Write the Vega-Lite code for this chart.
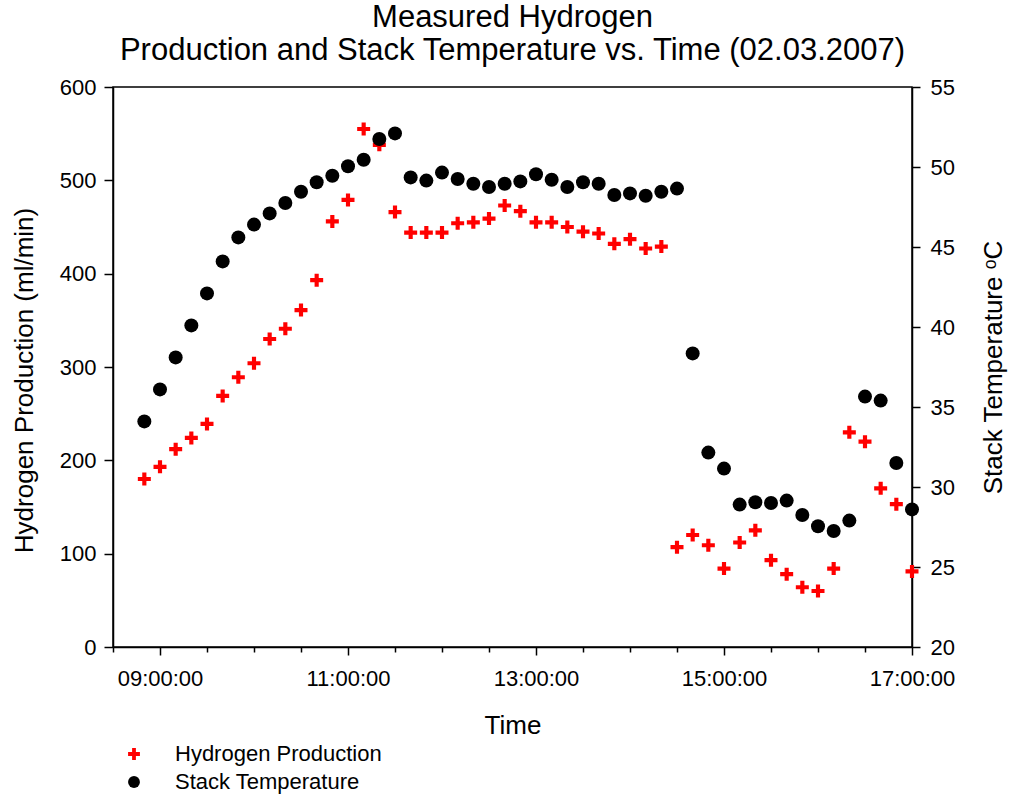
{
  "$schema": "https://vega.github.io/schema/vega-lite/v6.json",
  "width": 799,
  "height": 560,
  "autosize": {"type": "none"},
  "padding": {"left": 113, "top": 87, "right": 102, "bottom": 152},
  "background": "white",
  "title": {
    "text": ["Measured Hydrogen", "Production and Stack Temperature vs. Time (02.03.2007)"],
    "fontSize": 31,
    "fontWeight": "normal",
    "font": "Liberation Sans",
    "color": "black",
    "anchor": "middle",
    "lineHeight": 33,
    "offset": 9
  },
  "data": {
    "values": [
      {"time": "2007-03-02T08:50:00", "series": "Hydrogen Production", "value": 180},
      {"time": "2007-03-02T09:00:00", "series": "Hydrogen Production", "value": 193},
      {"time": "2007-03-02T09:10:00", "series": "Hydrogen Production", "value": 212},
      {"time": "2007-03-02T09:20:00", "series": "Hydrogen Production", "value": 224},
      {"time": "2007-03-02T09:30:00", "series": "Hydrogen Production", "value": 239},
      {"time": "2007-03-02T09:40:00", "series": "Hydrogen Production", "value": 269},
      {"time": "2007-03-02T09:50:00", "series": "Hydrogen Production", "value": 289},
      {"time": "2007-03-02T10:00:00", "series": "Hydrogen Production", "value": 304},
      {"time": "2007-03-02T10:10:00", "series": "Hydrogen Production", "value": 330},
      {"time": "2007-03-02T10:20:00", "series": "Hydrogen Production", "value": 341},
      {"time": "2007-03-02T10:30:00", "series": "Hydrogen Production", "value": 361},
      {"time": "2007-03-02T10:40:00", "series": "Hydrogen Production", "value": 393},
      {"time": "2007-03-02T10:50:00", "series": "Hydrogen Production", "value": 456},
      {"time": "2007-03-02T11:00:00", "series": "Hydrogen Production", "value": 479},
      {"time": "2007-03-02T11:10:00", "series": "Hydrogen Production", "value": 555},
      {"time": "2007-03-02T11:20:00", "series": "Hydrogen Production", "value": 538},
      {"time": "2007-03-02T11:30:00", "series": "Hydrogen Production", "value": 466},
      {"time": "2007-03-02T11:40:00", "series": "Hydrogen Production", "value": 444},
      {"time": "2007-03-02T11:50:00", "series": "Hydrogen Production", "value": 444},
      {"time": "2007-03-02T12:00:00", "series": "Hydrogen Production", "value": 444},
      {"time": "2007-03-02T12:10:00", "series": "Hydrogen Production", "value": 454},
      {"time": "2007-03-02T12:20:00", "series": "Hydrogen Production", "value": 455},
      {"time": "2007-03-02T12:30:00", "series": "Hydrogen Production", "value": 459},
      {"time": "2007-03-02T12:40:00", "series": "Hydrogen Production", "value": 473},
      {"time": "2007-03-02T12:50:00", "series": "Hydrogen Production", "value": 467},
      {"time": "2007-03-02T13:00:00", "series": "Hydrogen Production", "value": 455},
      {"time": "2007-03-02T13:10:00", "series": "Hydrogen Production", "value": 455},
      {"time": "2007-03-02T13:20:00", "series": "Hydrogen Production", "value": 450},
      {"time": "2007-03-02T13:30:00", "series": "Hydrogen Production", "value": 445},
      {"time": "2007-03-02T13:40:00", "series": "Hydrogen Production", "value": 443},
      {"time": "2007-03-02T13:50:00", "series": "Hydrogen Production", "value": 432},
      {"time": "2007-03-02T14:00:00", "series": "Hydrogen Production", "value": 437},
      {"time": "2007-03-02T14:10:00", "series": "Hydrogen Production", "value": 427},
      {"time": "2007-03-02T14:20:00", "series": "Hydrogen Production", "value": 429},
      {"time": "2007-03-02T14:30:00", "series": "Hydrogen Production", "value": 107},
      {"time": "2007-03-02T14:40:00", "series": "Hydrogen Production", "value": 120},
      {"time": "2007-03-02T14:50:00", "series": "Hydrogen Production", "value": 109},
      {"time": "2007-03-02T15:00:00", "series": "Hydrogen Production", "value": 84},
      {"time": "2007-03-02T15:10:00", "series": "Hydrogen Production", "value": 112},
      {"time": "2007-03-02T15:20:00", "series": "Hydrogen Production", "value": 125},
      {"time": "2007-03-02T15:30:00", "series": "Hydrogen Production", "value": 93},
      {"time": "2007-03-02T15:40:00", "series": "Hydrogen Production", "value": 78},
      {"time": "2007-03-02T15:50:00", "series": "Hydrogen Production", "value": 64},
      {"time": "2007-03-02T16:00:00", "series": "Hydrogen Production", "value": 60},
      {"time": "2007-03-02T16:10:00", "series": "Hydrogen Production", "value": 84},
      {"time": "2007-03-02T16:20:00", "series": "Hydrogen Production", "value": 230},
      {"time": "2007-03-02T16:30:00", "series": "Hydrogen Production", "value": 220},
      {"time": "2007-03-02T16:40:00", "series": "Hydrogen Production", "value": 170},
      {"time": "2007-03-02T16:50:00", "series": "Hydrogen Production", "value": 153},
      {"time": "2007-03-02T17:00:00", "series": "Hydrogen Production", "value": 81},
      {"time": "2007-03-02T08:50:00", "series": "Stack Temperature", "value": 34.1},
      {"time": "2007-03-02T09:00:00", "series": "Stack Temperature", "value": 36.1},
      {"time": "2007-03-02T09:10:00", "series": "Stack Temperature", "value": 38.1},
      {"time": "2007-03-02T09:20:00", "series": "Stack Temperature", "value": 40.1},
      {"time": "2007-03-02T09:30:00", "series": "Stack Temperature", "value": 42.1},
      {"time": "2007-03-02T09:40:00", "series": "Stack Temperature", "value": 44.1},
      {"time": "2007-03-02T09:50:00", "series": "Stack Temperature", "value": 45.6},
      {"time": "2007-03-02T10:00:00", "series": "Stack Temperature", "value": 46.4},
      {"time": "2007-03-02T10:10:00", "series": "Stack Temperature", "value": 47.1},
      {"time": "2007-03-02T10:20:00", "series": "Stack Temperature", "value": 47.75},
      {"time": "2007-03-02T10:30:00", "series": "Stack Temperature", "value": 48.45},
      {"time": "2007-03-02T10:40:00", "series": "Stack Temperature", "value": 49.05},
      {"time": "2007-03-02T10:50:00", "series": "Stack Temperature", "value": 49.45},
      {"time": "2007-03-02T11:00:00", "series": "Stack Temperature", "value": 50.05},
      {"time": "2007-03-02T11:10:00", "series": "Stack Temperature", "value": 50.45},
      {"time": "2007-03-02T11:20:00", "series": "Stack Temperature", "value": 51.75},
      {"time": "2007-03-02T11:30:00", "series": "Stack Temperature", "value": 52.1},
      {"time": "2007-03-02T11:40:00", "series": "Stack Temperature", "value": 49.35},
      {"time": "2007-03-02T11:50:00", "series": "Stack Temperature", "value": 49.15},
      {"time": "2007-03-02T12:00:00", "series": "Stack Temperature", "value": 49.65},
      {"time": "2007-03-02T12:10:00", "series": "Stack Temperature", "value": 49.25},
      {"time": "2007-03-02T12:20:00", "series": "Stack Temperature", "value": 48.95},
      {"time": "2007-03-02T12:30:00", "series": "Stack Temperature", "value": 48.75},
      {"time": "2007-03-02T12:40:00", "series": "Stack Temperature", "value": 48.95},
      {"time": "2007-03-02T12:50:00", "series": "Stack Temperature", "value": 49.1},
      {"time": "2007-03-02T13:00:00", "series": "Stack Temperature", "value": 49.55},
      {"time": "2007-03-02T13:10:00", "series": "Stack Temperature", "value": 49.2},
      {"time": "2007-03-02T13:20:00", "series": "Stack Temperature", "value": 48.75},
      {"time": "2007-03-02T13:30:00", "series": "Stack Temperature", "value": 49.05},
      {"time": "2007-03-02T13:40:00", "series": "Stack Temperature", "value": 48.95},
      {"time": "2007-03-02T13:50:00", "series": "Stack Temperature", "value": 48.25},
      {"time": "2007-03-02T14:00:00", "series": "Stack Temperature", "value": 48.35},
      {"time": "2007-03-02T14:10:00", "series": "Stack Temperature", "value": 48.2},
      {"time": "2007-03-02T14:20:00", "series": "Stack Temperature", "value": 48.45},
      {"time": "2007-03-02T14:30:00", "series": "Stack Temperature", "value": 48.65},
      {"time": "2007-03-02T14:40:00", "series": "Stack Temperature", "value": 38.35},
      {"time": "2007-03-02T14:50:00", "series": "Stack Temperature", "value": 32.15},
      {"time": "2007-03-02T15:00:00", "series": "Stack Temperature", "value": 31.15},
      {"time": "2007-03-02T15:10:00", "series": "Stack Temperature", "value": 28.9},
      {"time": "2007-03-02T15:20:00", "series": "Stack Temperature", "value": 29.05},
      {"time": "2007-03-02T15:30:00", "series": "Stack Temperature", "value": 29.0},
      {"time": "2007-03-02T15:40:00", "series": "Stack Temperature", "value": 29.15},
      {"time": "2007-03-02T15:50:00", "series": "Stack Temperature", "value": 28.25},
      {"time": "2007-03-02T16:00:00", "series": "Stack Temperature", "value": 27.55},
      {"time": "2007-03-02T16:10:00", "series": "Stack Temperature", "value": 27.25},
      {"time": "2007-03-02T16:20:00", "series": "Stack Temperature", "value": 27.9},
      {"time": "2007-03-02T16:30:00", "series": "Stack Temperature", "value": 35.65},
      {"time": "2007-03-02T16:40:00", "series": "Stack Temperature", "value": 35.4},
      {"time": "2007-03-02T16:50:00", "series": "Stack Temperature", "value": 31.5},
      {"time": "2007-03-02T17:00:00", "series": "Stack Temperature", "value": 28.6}
    ]
  },
  "encoding": {
    "x": {
      "field": "time",
      "type": "temporal",
      "scale": {
        "domain": [
          {"year": 2007, "month": 3, "date": 2, "hours": 8, "minutes": 30},
          {"year": 2007, "month": 3, "date": 2, "hours": 17, "minutes": 0}
        ]
      },
      "axis": {
        "title": "Time",
        "values": [
          {"year": 2007, "month": 3, "date": 2, "hours": 8, "minutes": 30},
          {"year": 2007, "month": 3, "date": 2, "hours": 9, "minutes": 0},
          {"year": 2007, "month": 3, "date": 2, "hours": 9, "minutes": 30},
          {"year": 2007, "month": 3, "date": 2, "hours": 10, "minutes": 0},
          {"year": 2007, "month": 3, "date": 2, "hours": 10, "minutes": 30},
          {"year": 2007, "month": 3, "date": 2, "hours": 11, "minutes": 0},
          {"year": 2007, "month": 3, "date": 2, "hours": 11, "minutes": 30},
          {"year": 2007, "month": 3, "date": 2, "hours": 12, "minutes": 0},
          {"year": 2007, "month": 3, "date": 2, "hours": 12, "minutes": 30},
          {"year": 2007, "month": 3, "date": 2, "hours": 13, "minutes": 0},
          {"year": 2007, "month": 3, "date": 2, "hours": 13, "minutes": 30},
          {"year": 2007, "month": 3, "date": 2, "hours": 14, "minutes": 0},
          {"year": 2007, "month": 3, "date": 2, "hours": 14, "minutes": 30},
          {"year": 2007, "month": 3, "date": 2, "hours": 15, "minutes": 0},
          {"year": 2007, "month": 3, "date": 2, "hours": 15, "minutes": 30},
          {"year": 2007, "month": 3, "date": 2, "hours": 16, "minutes": 0},
          {"year": 2007, "month": 3, "date": 2, "hours": 16, "minutes": 30},
          {"year": 2007, "month": 3, "date": 2, "hours": 17, "minutes": 0}
        ],
        "labelExpr": "hours(datum.value) % 2 == 1 && minutes(datum.value) == 0 ? timeFormat(datum.value, '%H:%M:%S') : ''",
        "tickSize": {"condition": {"test": "hours(datum.value) % 2 == 1 && minutes(datum.value) == 0", "value": 8}, "value": 5},
        "labelOverlap": false,
        "labelFlush": false,
        "labelPadding": 13,
        "labelDx": 6,
        "titlePadding": 23
      }
    },
    "color": {
      "field": "series",
      "type": "nominal",
      "scale": {"domain": ["Hydrogen Production", "Stack Temperature"], "range": ["#ff0000", "#000000"]},
      "legend": {
        "orient": "none",
        "legendX": 10,
        "legendY": 656,
        "direction": "vertical",
        "title": null,
        "labelFontSize": 22,
        "labelColor": "black",
        "labelLimit": 0,
        "labelOffset": 30,
        "symbolSize": 140,
        "symbolStrokeWidth": 0,
        "rowPadding": 6,
        "padding": 0
      }
    },
    "shape": {
      "field": "series",
      "type": "nominal",
      "scale": {
        "domain": ["Hydrogen Production", "Stack Temperature"],
        "range": ["M-1,-0.32H-0.32V-1H0.32V-0.32H1V0.32H0.32V1H-0.32V0.32H-1Z", "circle"]
      },
      "legend": {
        "orient": "none",
        "legendX": 10,
        "legendY": 656,
        "direction": "vertical",
        "title": null,
        "labelFontSize": 22,
        "labelColor": "black",
        "labelLimit": 0,
        "labelOffset": 30,
        "symbolSize": 140,
        "symbolStrokeWidth": 0,
        "rowPadding": 6,
        "padding": 0
      }
    }
  },
  "layer": [
    {
      "transform": [{"filter": "datum.series == 'Hydrogen Production'"}],
      "mark": {"type": "point", "filled": true, "opacity": 1, "size": 169, "strokeWidth": 0},
      "encoding": {
        "y": {
          "field": "value",
          "type": "quantitative",
          "scale": {"domain": [0, 600], "nice": false, "zero": false},
          "axis": {
            "title": "Hydrogen Production (ml/min)",
            "orient": "left",
            "values": [0, 100, 200, 300, 400, 500, 600],
            "tickSize": 9,
            "labelPadding": 8,
            "titlePadding": 22,
            "titleY": 293
          }
        }
      }
    },
    {
      "transform": [{"filter": "datum.series == 'Stack Temperature'"}],
      "mark": {"type": "point", "filled": true, "opacity": 1, "size": 196, "strokeWidth": 0},
      "encoding": {
        "y": {
          "field": "value",
          "type": "quantitative",
          "scale": {"domain": [20, 55], "nice": false, "zero": false},
          "axis": {
            "title": "Stack Temperature ᵒC",
            "orient": "right",
            "values": [20, 25, 30, 35, 40, 45, 50, 55],
            "tickSize": 8,
            "labelPadding": 10,
            "titlePadding": 52,
            "titleAngle": -90
          }
        }
      }
    }
  ],
  "resolve": {"scale": {"y": "independent"}},
  "config": {
    "font": "Liberation Sans",
    "view": {"stroke": "black", "strokeWidth": 1.5},
    "axis": {
      "grid": false,
      "domainColor": "black",
      "domainWidth": 1.5,
      "tickColor": "black",
      "tickWidth": 1.5,
      "labelColor": "black",
      "labelFontSize": 22,
      "titleColor": "black",
      "titleFontSize": 26,
      "titleFontWeight": "normal"
    }
  }
}
